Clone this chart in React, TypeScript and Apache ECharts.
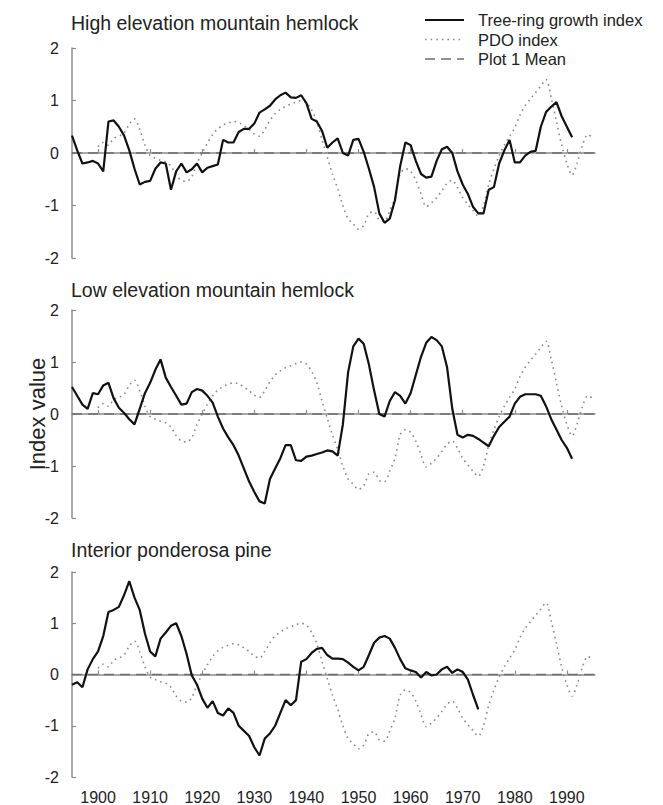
import React, { useEffect, useRef } from "react";
import * as echarts from "echarts";

// Tree-ring growth indices, one value per year
const highStart = 1895;
const highElevationHemlock = [
  0.33, 0.05, -0.2, -0.18, -0.15, -0.2, -0.35, 0.6, 0.62, 0.5,
  0.33, 0.05, -0.3, -0.6, -0.55, -0.53, -0.3, -0.18, -0.2, -0.7,
  -0.35, -0.2, -0.37, -0.31, -0.2, -0.37, -0.28, -0.25, -0.22, 0.25,
  0.2, 0.2, 0.4, 0.46, 0.46, 0.56, 0.77, 0.83, 0.9, 1.02,
  1.1, 1.15, 1.06, 1.05, 1.1, 0.95, 0.65, 0.6, 0.42, 0.1,
  0.2, 0.28, 0.0, -0.05, 0.25, 0.27, 0.02, -0.3, -0.65, -1.15,
  -1.33, -1.25, -0.9, -0.25, 0.2, 0.15, -0.15, -0.4, -0.47, -0.45,
  -0.15, 0.07, 0.12, 0.0, -0.35, -0.6, -0.78, -1.03, -1.15, -1.15,
  -0.7, -0.65, -0.2, 0.05, 0.25, -0.18, -0.18, -0.05, 0.02, 0.04,
  0.5, 0.78, 0.88, 0.97, 0.7, 0.5, 0.3,
];

const lowStart = 1895;
const lowElevationHemlock = [
  0.52, 0.35, 0.18, 0.1, 0.4, 0.38, 0.55, 0.6, 0.3, 0.12,
  0.02, -0.1, -0.2, 0.1, 0.4, 0.6, 0.85, 1.05, 0.7, 0.52,
  0.35, 0.18, 0.2, 0.42, 0.48, 0.45, 0.35, 0.22, -0.05, -0.28,
  -0.45, -0.6, -0.8, -1.05, -1.3, -1.5, -1.68, -1.72, -1.25, -1.05,
  -0.85, -0.6, -0.6, -0.89, -0.9, -0.82, -0.8, -0.77, -0.74, -0.7,
  -0.72, -0.8, -0.2, 0.8, 1.3, 1.45, 1.35, 0.95, 0.45, 0.0,
  -0.05, 0.25, 0.42, 0.35, 0.2, 0.4, 0.75, 1.1, 1.37, 1.48,
  1.42, 1.3, 0.9, 0.1, -0.4, -0.45, -0.4, -0.42, -0.48, -0.55,
  -0.62, -0.42, -0.25, -0.15, -0.05, 0.2, 0.33, 0.38, 0.38, 0.38,
  0.35, 0.15, -0.1, -0.3, -0.5, -0.65, -0.86,
];

const pineStart = 1895;
const interiorPonderosaPine = [
  -0.2, -0.15, -0.25, 0.1, 0.3, 0.45, 0.75, 1.22, 1.26, 1.32,
  1.55, 1.82, 1.5, 1.26, 0.8, 0.45, 0.35, 0.7, 0.82, 0.95,
  1.0, 0.75, 0.4, -0.02, -0.2, -0.47, -0.65, -0.52, -0.75, -0.8,
  -0.66, -0.75, -1.0, -1.1, -1.2, -1.42, -1.58, -1.25, -1.15, -1.0,
  -0.75, -0.5, -0.6, -0.5, 0.25, 0.3, 0.42, 0.5, 0.52, 0.38,
  0.31, 0.31, 0.3, 0.23, 0.15, 0.08, 0.15, 0.38, 0.62, 0.72,
  0.75, 0.7, 0.52, 0.3, 0.12, 0.08, 0.05, -0.06, 0.05, -0.02,
  0.0, 0.1, 0.15, 0.03, 0.1, 0.05, -0.1, -0.4, -0.68,
];

// Pacific Decadal Oscillation index, shared by all three panels
const pdoStart = 1900;
const pdoIndex = [
  0.12, 0.2, 0.15, 0.28, 0.32, 0.38, 0.55, 0.65, 0.45, 0.15,
  -0.05, -0.1, -0.14, -0.17, -0.25, -0.42, -0.52, -0.54, -0.45, -0.2,
  0.0, 0.19, 0.35, 0.46, 0.53, 0.57, 0.6, 0.58, 0.52, 0.45,
  0.36, 0.32, 0.45, 0.62, 0.75, 0.83, 0.89, 0.93, 0.97, 1.0,
  0.96, 0.82, 0.6, 0.25, -0.08, -0.4, -0.68, -1.0, -1.25, -1.35,
  -1.45, -1.38, -1.15, -1.12, -1.28, -1.3, -1.1, -0.85, -0.4, -0.3,
  -0.35, -0.52, -0.78, -1.02, -0.95, -0.85, -0.72, -0.58, -0.52, -0.66,
  -0.85, -0.98, -1.1, -1.2, -1.0, -0.6, -0.3, -0.05, 0.15, 0.32,
  0.48, 0.72, 0.9, 1.03, 1.15, 1.28, 1.4, 1.05, 0.6, 0.15,
  -0.2, -0.42, -0.18, 0.15, 0.35, 0.3,
];

const panelTitles = [
  "High elevation mountain hemlock",
  "Low elevation mountain hemlock",
  "Interior ponderosa pine",
];
const legendLabels = ["Tree-ring growth index", "PDO index", "Plot 1 Mean"];
const decadeTicks = [1900, 1910, 1920, 1930, 1940, 1950, 1960, 1970, 1980, 1990];
const yearRange = [1895, 1995.4];
const meanLevel = 0;

const toPairs = (start: number, values: number[]) =>
  values.map((v, i) => [start + i, v]);

const FONT = "'Liberation Sans', Arial, Helvetica, sans-serif";
const AXIS_GRAY = "#8c8c8c";
const TEXT = "#222";
const SOLID = "#111";
const DOT_GRAY = "#8a8a8a";
const DASH_GRAY = "#6e6e6e";
const MEAN_DASH = [10, 6];
const PDO_DOTS = [1.6, 4];

const panelBoxes = [
  { top: 48, height: 210 },
  { top: 310, height: 208 },
  { top: 572, height: 207 },
];

export default function App() {
  const ref = useRef<HTMLDivElement>(null);

  useEffect(() => {
    if (!ref.current) return;
    const chart = echarts.init(ref.current, undefined, { renderer: "svg" });

    const ringSeries = [
      toPairs(highStart, highElevationHemlock),
      toPairs(lowStart, lowElevationHemlock),
      toPairs(pineStart, interiorPonderosaPine),
    ];
    const pdo = toPairs(pdoStart, pdoIndex);
    const meanLine = [
      [yearRange[0], meanLevel],
      [yearRange[1], meanLevel],
    ];

    const grids = panelBoxes.map((b) => ({
      left: 72,
      right: 68,
      top: b.top,
      height: b.height,
    }));

    const xAxes = panelBoxes.map((_, i) => ({
      type: "value" as const,
      gridIndex: i,
      min: yearRange[0],
      max: yearRange[1],
      axisLine: { show: true, lineStyle: { color: AXIS_GRAY, width: 1.5 } },
      axisTick: {
        show: true,
        inside: true,
        length: 4,
        customValues: decadeTicks,
        lineStyle: { color: AXIS_GRAY, width: 1.2 },
      },
      axisLabel: {
        show: i === 2,
        customValues: decadeTicks,
        formatter: (v: number) => String(v),
        margin: 12,
        fontSize: 16,
        fontFamily: FONT,
        color: TEXT,
      },
      splitLine: { show: false },
    }));

    const yAxes = panelBoxes.map((_, i) => ({
      type: "value" as const,
      gridIndex: i,
      min: -2,
      max: 2,
      interval: 1,
      axisLine: { show: true, lineStyle: { color: AXIS_GRAY, width: 1.5 } },
      axisTick: {
        show: true,
        inside: true,
        length: 4,
        lineStyle: { color: AXIS_GRAY, width: 1.2 },
      },
      axisLabel: {
        margin: 13,
        fontSize: 16,
        fontFamily: FONT,
        color: TEXT,
      },
      splitLine: { show: false },
    }));

    const series: any[] = [];
    panelBoxes.forEach((_, i) => {
      series.push({
        name: legendLabels[2],
        type: "line",
        xAxisIndex: i,
        yAxisIndex: i,
        data: meanLine,
        showSymbol: false,
        lineStyle: { color: DASH_GRAY, width: 1.6, type: MEAN_DASH },
        z: 1,
      });
      series.push({
        name: legendLabels[1],
        type: "line",
        xAxisIndex: i,
        yAxisIndex: i,
        data: pdo,
        showSymbol: false,
        smooth: 0.3,
        lineStyle: { color: DOT_GRAY, width: 1.6, type: PDO_DOTS },
        z: 2,
      });
      series.push({
        name: legendLabels[0],
        type: "line",
        xAxisIndex: i,
        yAxisIndex: i,
        data: ringSeries[i],
        showSymbol: false,
        lineStyle: { color: SOLID, width: 2.2 },
        z: 3,
      });
    });

    const titleY = [23, 290, 550];
    const titles = panelTitles.map((t, i) => ({
      type: "text",
      x: 71,
      y: titleY[i],
      style: {
        text: t,
        fontSize: 19.5,
        fontFamily: FONT,
        fill: TEXT,
        textVerticalAlign: "middle",
        verticalAlign: "middle",
      },
    }));

    const legendRows = [20, 39.5, 59];
    const legendDash: any[] = [null, PDO_DOTS, MEAN_DASH];
    const legendColors = [SOLID, DOT_GRAY, DASH_GRAY];
    const legendWidths = [2.2, 1.6, 1.6];
    const legend: any[] = [];
    legendLabels.forEach((label, i) => {
      legend.push({
        type: "line",
        shape: { x1: 425, y1: legendRows[i], x2: 464, y2: legendRows[i] },
        style: {
          stroke: legendColors[i],
          lineWidth: legendWidths[i],
          lineDash: legendDash[i] || undefined,
        },
      });
      legend.push({
        type: "text",
        x: 478,
        y: legendRows[i],
        style: {
          text: label,
          fontSize: 16.5,
          fontFamily: FONT,
          fill: TEXT,
          verticalAlign: "middle",
          textVerticalAlign: "middle",
        },
      });
    });

    const axisName = {
      type: "text",
      x: 37,
      y: 414,
      rotation: Math.PI / 2,
      style: {
        text: "Index value",
        fontSize: 22,
        fontFamily: FONT,
        fill: TEXT,
        align: "center",
        textAlign: "center",
        verticalAlign: "middle",
        textVerticalAlign: "middle",
      },
    };

    chart.setOption({
      animation: false,
      backgroundColor: "#ffffff",
      grid: grids,
      xAxis: xAxes,
      yAxis: yAxes,
      series,
      graphic: [...titles, ...legend, axisName],
    });

    return () => chart.dispose();
  }, []);

  return (
    <div
      ref={ref}
      style={{ position: "fixed", left: 0, top: 0, width: 663, height: 805 }}
    />
  );
}
